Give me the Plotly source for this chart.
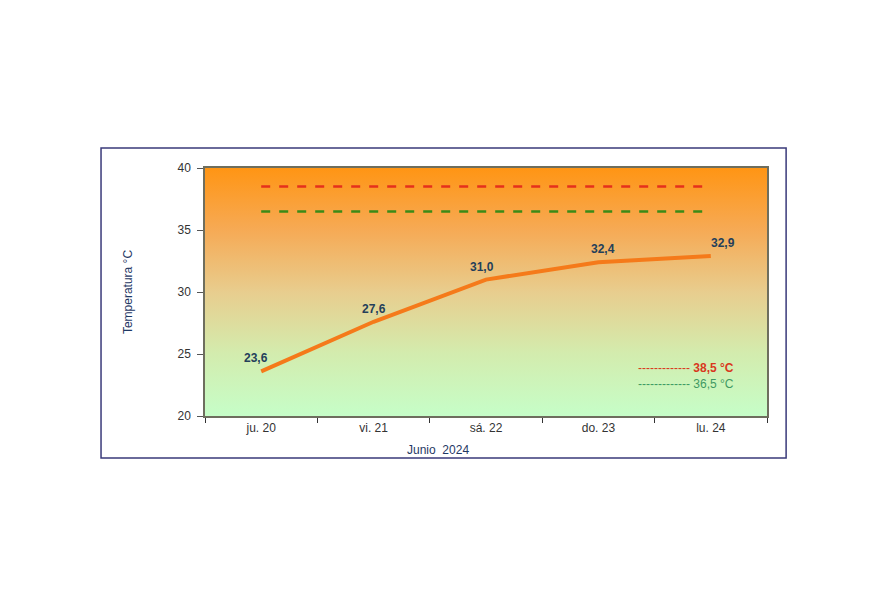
import plotly.graph_objects as go

# data
days = ["ju. 20", "vi. 21", "sá. 22", "do. 23", "lu. 24"]
temps = [23.6, 27.6, 31.0, 32.4, 32.9]
umbral_rojo = 38.5
umbral_verde = 36.5
y_range = [20, 40]

x_idx = list(range(len(days)))
x_lo, x_hi = -0.5, len(days) - 0.5
font_family = "Arial, Liberation Sans, sans-serif"
label_dx = [-5, 0, -4, 5, 12]  # small horizontal nudges of the value labels


def fmt(v):
    return f"{v:.1f}".replace(".", ",")


fig = go.Figure()

# gradient background (orange top -> light green bottom)
fig.add_trace(go.Scatter(
    x=[x_lo, x_hi, x_hi, x_lo, x_lo],
    y=[y_range[0], y_range[0], y_range[1], y_range[1], y_range[0]],
    mode="lines", line=dict(width=0), fill="toself",
    fillgradient=dict(type="vertical",
                      colorscale=[[0, "#c6fec8"], [0.25, "#d3ecae"],
                                  [0.5, "#e8cd8e"], [0.75, "#f6aa55"],
                                  [1, "#ff9514"]]),
    hoverinfo="skip", showlegend=False))

# threshold lines
fig.add_trace(go.Scatter(
    x=[x_idx[0], x_idx[-1]], y=[umbral_rojo, umbral_rojo], mode="lines",
    line=dict(color="#e5301c", width=2.5, dash="dash"), showlegend=False))
fig.add_trace(go.Scatter(
    x=[x_idx[0], x_idx[-1]], y=[umbral_verde, umbral_verde], mode="lines",
    line=dict(color="#3b8a17", width=2.5, dash="dash"), showlegend=False))

# temperature series
fig.add_trace(go.Scatter(
    x=x_idx, y=temps, mode="lines",
    line=dict(color="#f57a1a", width=4), showlegend=False))

# value labels above the points
for xi, v, dx in zip(x_idx, temps, label_dx):
    fig.add_annotation(x=xi, y=v, text=fmt(v), showarrow=False,
                       yanchor="bottom", yshift=4, xshift=dx,
                       font=dict(family=font_family, size=12,
                                 color="#243f5a", weight="bold"))

# legend-like notes
fig.add_annotation(xref="paper", yref="paper", x=0.945, y=0.193,
                   xanchor="right", yanchor="middle", showarrow=False,
                   text=f"------------- <b>{fmt(umbral_rojo)} °C</b>",
                   font=dict(family=font_family, size=12, color="#d9381e"))
fig.add_annotation(xref="paper", yref="paper", x=0.945, y=0.128,
                   xanchor="right", yanchor="middle", showarrow=False,
                   text=f"------------- {fmt(umbral_verde)} °C",
                   font=dict(family=font_family, size=12, color="#3f9a63"))

# x title
fig.add_annotation(xref="paper", yref="paper", x=0.415, y=-0.137,
                   xanchor="center", yanchor="middle", showarrow=False,
                   text="Junio  2024",
                   font=dict(family=font_family, size=12, color="#1f3864"))

# outer frame
fig.add_shape(type="rect", xref="paper", yref="paper",
              x0=-0.185, x1=1.034, y0=-0.169, y1=1.081,
              line=dict(color="#3a3a7a", width=1.5), fillcolor="rgba(0,0,0,0)")

fig.update_layout(
    width=890, height=600,
    margin=dict(l=197, r=131, t=160, b=192),
    paper_bgcolor="white", plot_bgcolor="white",
    font=dict(family=font_family, size=12, color="#333333"),
    xaxis=dict(range=[x_lo, x_hi], tickmode="array", tickvals=x_idx,
               ticktext=days, ticks="", showgrid=False, zeroline=False,
               showline=True, linecolor="#6e6e5e", linewidth=1.5, mirror=True,
               minor=dict(tickmode="array",
                          tickvals=[i + 0.5 for i in [-1] + x_idx],
                          ticks="outside", ticklen=5, tickcolor="#333333",
                          showgrid=False),
               tickfont=dict(size=12, color="#333333")),
    yaxis=dict(range=y_range, dtick=5, ticks="outside", ticklen=6,
               tickcolor="#555555", showgrid=False, zeroline=False,
               showline=True, linecolor="#6e6e5e", linewidth=1.5, mirror=True,
               ticklabelstandoff=4,
               title=dict(text="Temperatura °C", standoff=42,
                          font=dict(size=12, color="#1f3864")),
               tickfont=dict(size=12, color="#333333")),
)

fig.write_html("out.html")
